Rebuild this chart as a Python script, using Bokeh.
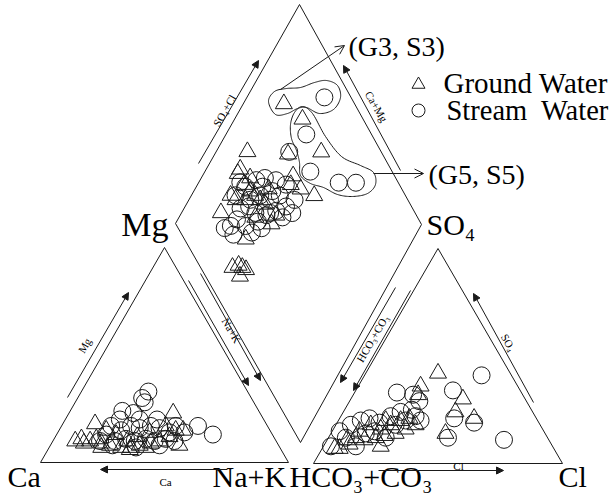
import numpy as np
from bokeh.plotting import figure
from bokeh.models import Range1d, Arrow, NormalHead, OpenHead
from bokeh.core.properties import value
from bokeh.embed import file_html
from bokeh.resources import INLINE

# ---------------- data (percent) ----------------
# cation triangle: Mg %, Na+K %   (Ca = 100 - Mg - NaK)
gw_cat_mg  = [18, 23, 10, 11, 9, 10, 9, 8, 7, 7, 8, 9, 10, 12, 15, 17, 15, 13, 10, 12, 14, 11, 7, 7, 6, 8, 15]
gw_cat_nak = [13, 42, 9, 11, 13, 15, 20, 24, 29, 33, 36, 40, 43, 46, 47, 42, 19, 24, 30, 33, 37, 17, 21, 39, 33, 52, 50]
sw_cat_mg  = [33, 30, 28, 24, 17, 13, 17, 15, 17, 16, 17, 16, 14, 17, 13, 10, 11, 10, 11, 10, 11, 20, 20, 20, 23,
              10, 8, 7, 8, 10, 14]
sw_cat_nak = [27, 26, 28, 21, 55, 63, 20, 25, 28, 32, 36, 40, 45, 46, 20, 25, 29, 33, 37, 41, 45, 22, 30, 37, 26,
              19, 25, 35, 44, 49, 51]

# anion triangle: SO4 %, Cl %   (HCO3+CO3 = 100 - SO4 - Cl)
gw_an_so4 = [42, 30, 24, 21, 14, 36, 32, 7, 7, 9, 15, 18, 16, 18, 20, 21, 11, 12, 13, 14, 16, 8, 12, 11, 18, 20]
gw_an_cl  = [29, 45, 45, 54, 46, 25, 26, 5, 7, 10, 11, 14, 19, 22, 25, 28, 15, 19, 22, 26, 29, 23, 11, 8, 32, 19]
sw_an_so4 = [41, 34, 21, 19, 12, 11, 33, 32, 29, 15, 18, 20, 21, 19, 22, 24, 25, 14, 15, 12, 18, 20, 8, 12, 8, 22, 20]
sw_an_cl  = [47, 39, 46, 55, 48, 71, 17, 24, 28, 3, 6, 9, 12, 17, 20, 23, 27, 14, 17, 23, 24, 27, 13, 7, 3, 30, 33]

# diamond: Ca+Mg %, SO4+Cl %
gw_dia_camg  = [83, 72, 87, 70, 57, 86, 86, 81, 63, 50, 84, 61, 68, 67, 65, 63, 61, 62, 77, 71, 81, 62, 57, 69, 68,
                77, 74, 70, 61, 80, 84]
gw_dia_so4cl = [72, 76, 46, 62, 76, 39, 37, 37, 59, 63, 21, 39, 25, 13, 16, 17, 18, 14, 38, 40, 30, 56, 59, 34, 41,
                34, 39, 46, 43, 41, 29]
sw_dia_camg  = [68, 67, 70, 57, 43, 36, 82, 80, 77, 74, 69, 64, 75, 72, 67, 64, 77, 70, 65, 71, 77, 59, 57, 79, 74, 62,
                83, 73, 68, 74, 67, 64, 58, 55, 76, 67, 64]
sw_dia_so4cl = [90, 74, 63, 67, 76, 83, 31, 37, 43, 47, 51, 54, 36, 41, 44, 49, 30, 35, 39, 28, 22, 49, 54, 19, 21, 44,
                36, 44, 47, 34, 34, 41, 45, 50, 26, 29, 34]

legend_labels = ["Ground Water", "Stream\u00a0 Water"]
group_labels = ["(G3, S3)", "(G5, S5)"]

# ---------------- geometry (picture pixels, y down) ----------------
FONT = value("Liberation Serif")
W, H = 613, 495
def Y(y):
    return H - np.asarray(y, dtype=float)

CA, NAK, MG = np.array([40, 462.]), np.array([288, 462.]), np.array([164, 247.])
HCO, CL, SO = np.array([313, 463.]), np.array([562, 463.]), np.array([437.5, 248.])
DB, DL, DR, DT = np.array([300, 442.]), np.array([175, 223.]), np.array([421, 224.]), np.array([299, 4.])

def tern(origin, ax1, ax2, f1, f2):
    f1 = np.asarray(f1, float) / 100
    f2 = np.asarray(f2, float) / 100
    x = origin[0] + f1 * (ax1[0] - origin[0]) + f2 * (ax2[0] - origin[0])
    y = origin[1] + f1 * (ax1[1] - origin[1]) + f2 * (ax2[1] - origin[1])
    return x, Y(y)

p = figure(width=W, height=H, x_range=Range1d(0, W), y_range=Range1d(0, H),
           output_backend="svg", toolbar_location=None, min_border=0,
           x_axis_location=None, y_axis_location=None)
p.grid.visible = False
p.outline_line_color = None

LC = "#1a1a1a"
# outlines
for pts in ([CA, NAK, MG], [HCO, CL, SO], [DB, DR, DT, DL]):
    xs = [q[0] for q in pts]
    ys = list(Y([q[1] for q in pts]))
    p.patch(xs, ys, fill_color=None, line_color=LC, line_width=1)

# points
TS, CS = 17, 17
def pts(x, y, marker, size):
    p.scatter(x, y, marker=marker, size=size, fill_color=None, line_color=LC, line_width=1)

pts(*tern(CA, NAK, MG, gw_cat_nak, gw_cat_mg), "triangle", TS)
pts(*tern(CA, NAK, MG, sw_cat_nak, sw_cat_mg), "circle", CS)
pts(*tern(HCO, CL, SO, gw_an_cl, gw_an_so4), "triangle", TS)
pts(*tern(HCO, CL, SO, sw_an_cl, sw_an_so4), "circle", CS)
pts(*tern(DB, DL, DR, gw_dia_camg, gw_dia_so4cl), "triangle", TS)
pts(*tern(DB, DL, DR, sw_dia_camg, sw_dia_so4cl), "circle", CS)

# group loops (smooth closed curves)
def smooth_closed(P, n=12):
    P = np.asarray(P, float)
    m = len(P)
    out = []
    for i in range(m):
        p0, p1, p2, p3 = P[(i - 1) % m], P[i], P[(i + 1) % m], P[(i + 2) % m]
        for t in np.linspace(0, 1, n, endpoint=False):
            t2, t3 = t * t, t * t * t
            out.append(0.5 * ((2 * p1) + (-p0 + p2) * t + (2 * p0 - 5 * p1 + 4 * p2 - p3) * t2
                              + (-p0 + 3 * p1 - 3 * p2 + p3) * t3))
    out = np.array(out)
    return out[:, 0], Y(out[:, 1])

g3_loop = [(268, 101), (274, 91), (286, 88), (300, 87), (314, 82), (326, 80), (337, 85), (340, 97),
           (333, 109), (319, 113), (306, 107), (297, 108), (287, 113), (275, 114)]
g5_loop = [(302, 106), (312, 113), (325, 136), (341, 156), (360, 165), (373, 172), (375, 184),
           (367, 193), (352, 196), (337, 194), (323, 187), (310, 183), (300, 175), (299, 162),
           (296, 150), (291, 138), (290, 124), (294, 112)]
for loop in (g3_loop, g5_loop):
    lx, ly = smooth_closed(loop)
    p.patch(lx, ly, fill_color=None, line_color=LC, line_width=1)

# annotation arrows
def arrow(x0, y0, x1, y1, head="normal", size=7):
    if head == "normal":
        h = NormalHead(size=size, fill_color=LC, line_color=LC, line_width=1)
    else:
        h = OpenHead(size=size, line_color=LC, line_width=1)
    p.add_layout(Arrow(end=h, x_start=x0, y_start=float(Y(y0)), x_end=x1, y_end=float(Y(y1)),
                       line_color=LC, line_width=1))

arrow(280, 89, 344, 45, "open", 9)
arrow(373, 173, 423, 173, "open", 9)

# axis arrows
arrow(67, 397, 128, 292)          # Mg
arrow(188, 280, 248, 385)         # Na+K (triangle)
arrow(200, 273, 260, 380)         # Na+K (diamond)
arrow(227, 469, 100, 469)         # Ca
arrow(395, 287, 340, 382)         # HCO3+CO3 (diamond)
arrow(410, 290, 353, 390)         # HCO3+CO3 (triangle)
arrow(533, 402, 473, 293)         # SO4
arrow(378, 470, 503, 470)         # Cl
arrow(198, 163, 258, 60)          # SO4+Cl
arrow(400, 170, 343, 65)          # Ca+Mg

def txt(x, y, s, size, align="left", baseline="middle", angle=0.0):
    p.text(x=[x], y=[float(Y(y))], text=[s], text_font=FONT, text_font_size=size,
           text_align=align, text_baseline=baseline, angle=angle, text_color="black")

BIG = "30px"
txt(7, 476, "Ca", BIG)
txt(212, 476, "Na+K", BIG)
txt(289, 476, "HCO\u2083+CO\u2083", BIG)
txt(558, 476, "Cl", BIG)
txt(168, 224, "Mg", "34px", align="right")
txt(426, 224, "SO\u2084", BIG)

SM = "11px"
A = np.pi / 3
txt(84, 345, "Mg", SM, align="center", angle=A)
txt(231, 330, "Na+K", SM, align="center", angle=-A)
txt(165, 481, "Ca", SM, align="center")
txt(372, 338, "HCO\u2083+CO\u2083", SM, align="center", angle=A)
txt(508, 342, "SO\u2084", SM, align="center", angle=-A)
txt(458, 465, "Cl", SM, align="center")
txt(224, 110, "SO\u2084+Cl", SM, align="center", angle=A)
txt(376, 106, "Ca+Mg", SM, align="center", angle=-A)

# group labels and legend
txt(348, 46, group_labels[0], "28px")
txt(428, 174, group_labels[1], "28px")
p.scatter([418], [float(Y(84))], marker="triangle", size=13, fill_color=None, line_color=LC, line_width=1)
p.scatter([418], [float(Y(110))], marker="circle", size=13, fill_color=None, line_color=LC, line_width=1)
txt(443, 82, legend_labels[0], "29px")
txt(446, 110, legend_labels[1], "28.5px")

open("out.html", "w").write(file_html(p, INLINE))
